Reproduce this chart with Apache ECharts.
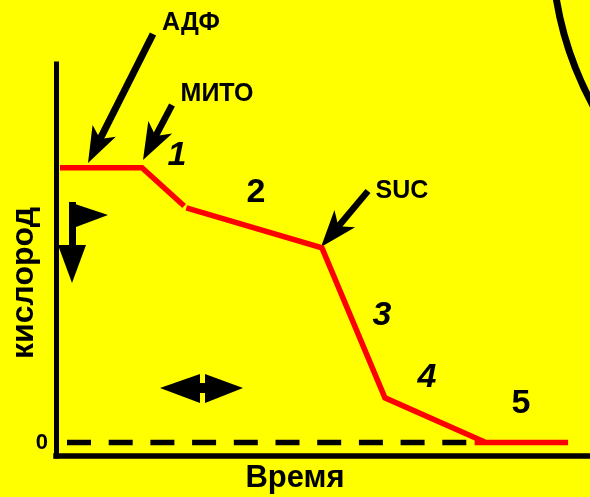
<!DOCTYPE html>
<html>
<head>
<meta charset="utf-8">
<script src="https://cdn.jsdelivr.net/npm/echarts@6/dist/echarts.min.js"></script>
<style>
html,body{margin:0;padding:0;background:#ffff00;}
#chart{width:590px;height:497px;}
</style>
</head>
<body>
<div id="chart"></div>
<script>
// ---- data ----
const timeValues   = [0.75, 16.1, 24.0, 24.2, 24.4, 49.8, 61.6, 80.5, 80.6, 78.4, 95.9];
const oxygenValues = [101.6, 101.6, 87.5, null, 86.8, 72.0, 16.5, 0, null, 0, 0];
const zeroLineX = [2.06, 77.3];
const zeroLineY = [0, 0];
const yTickLabels = [0];
const yAxisTitle = 'кислород';
const xAxisTitle = 'Время';
const stateLabels = ['1', '2', '3', '4', '5'];
const additionLabels = ['АДФ', 'МИТО', 'SUC'];

const FONT = '"Liberation Sans", Arial, sans-serif';
const chart = echarts.init(document.getElementById('chart'));

function arrow(tail, tip, headLen, halfW, notch, shaftW) {
  const dx = tip[0] - tail[0], dy = tip[1] - tail[1];
  const L = Math.hypot(dx, dy);
  const ux = dx / L, uy = dy / L;
  const px = -uy, py = ux;
  const bx = tip[0] - ux * headLen, by = tip[1] - uy * headLen;
  const nx = tip[0] - ux * notch, ny = tip[1] - uy * notch;
  return [
    { type: 'line', silent: true,
      shape: { x1: tail[0], y1: tail[1], x2: nx, y2: ny },
      style: { stroke: '#000', lineWidth: shaftW } },
    { type: 'polygon', silent: true,
      shape: { points: [tip, [bx + px * halfW, by + py * halfW], [nx, ny], [bx - px * halfW, by - py * halfW]] },
      style: { fill: '#000' } }
  ];
}

function txt(s, x, y, font, rot) {
  return { type: 'text', x: x, y: y, rotation: rot || 0, silent: true,
    style: { text: s, x: 0, y: 0, font: font, fill: '#000', align: 'center', verticalAlign: 'middle' } };
}

const lineData = timeValues.map((t, i) => [t, oxygenValues[i] === null ? '-' : oxygenValues[i]]);
const zeroData = zeroLineX.map((t, i) => [t, zeroLineY[i]]);

const graphics = [
  // big arc top right
  { type: 'circle', silent: true, shape: { cx: 887, cy: -55, r: 335 },
    style: { fill: 'none', stroke: '#000', lineWidth: 7 } },
  // flag with down arrow
  { type: 'polygon', silent: true, shape: { points: [[69, 202], [108, 215], [76, 227], [69, 227]] }, style: { fill: '#000' } },
  { type: 'rect', silent: true, shape: { x: 69, y: 202, width: 7, height: 44 }, style: { fill: '#000' } },
  { type: 'polygon', silent: true, shape: { points: [[58, 245], [86, 245], [72, 283]] }, style: { fill: '#000' } },
  // double arrow
  { type: 'polygon', silent: true, shape: { points: [[160, 388], [200, 374], [200, 403]] }, style: { fill: '#000' } },
  { type: 'polygon', silent: true, shape: { points: [[243, 388], [205, 374], [205, 403]] }, style: { fill: '#000' } },
  { type: 'rect', silent: true, shape: { x: 198, y: 383, width: 9, height: 10 }, style: { fill: '#000' } },
  // arrows
  ...arrow([153, 34], [88, 163], 36, 13, 27, 7),
  ...arrow([172, 105], [143, 160], 37, 13.5, 27, 6.5),
  ...arrow([368, 191], [321, 247], 37, 13.5, 27, 6.5),
  // addition labels
  txt(additionLabels[0], 191, 23, 'bold 25px ' + FONT),
  txt(additionLabels[1], 217, 94, 'bold 25px ' + FONT),
  txt(additionLabels[2], 402, 191, 'bold 25px ' + FONT),
  // state numbers
  txt(stateLabels[0], 177, 156, 'italic bold 34px ' + FONT),
  txt(stateLabels[1], 256, 193, 'bold 34px ' + FONT),
  txt(stateLabels[2], 382, 316, 'italic bold 34px ' + FONT),
  txt(stateLabels[3], 427, 378, 'italic bold 34px ' + FONT),
  txt(stateLabels[4], 521, 404, 'bold 34px ' + FONT),
  // axis titles
  txt(yAxisTitle, 24, 283, 'bold 32px ' + FONT, Math.PI / 2),
  txt(xAxisTitle, 295, 478, 'bold 31px ' + FONT)
];

chart.setOption({
  backgroundColor: '#ffff00',
  animation: false,
  grid: { left: 56, right: 0, top: 64, bottom: 41 },
  xAxis: {
    type: 'value', min: 0, max: 100,
    axisLine: { show: true, onZero: false, lineStyle: { color: '#000', width: 5.5, cap: 'square' } },
    axisTick: { show: false }, axisLabel: { show: false }, splitLine: { show: false }
  },
  yAxis: {
    type: 'value', min: -5, max: 140,
    axisLine: { show: true, onZero: false, lineStyle: { color: '#000', width: 5, cap: 'square' } },
    axisTick: { show: false },
    axisLabel: { show: true, customValues: yTickLabels, margin: 8, color: '#000',
      fontSize: 22, fontWeight: 'bold', fontFamily: FONT, padding: [4, 0, 0, 0] },
    splitLine: { show: false }
  },
  series: [
    { type: 'line', data: zeroData, symbol: 'none', silent: true,
      lineStyle: { color: '#000', width: 5.5, type: [24, 17.7], cap: 'butt' } },
    { type: 'line', data: lineData, symbol: 'none', silent: true, connectNulls: false,
      lineStyle: { color: '#ff0000', width: 5.5, cap: 'butt', join: 'miter' } }
  ],
  graphic: graphics
});
</script>
</body>
</html>
